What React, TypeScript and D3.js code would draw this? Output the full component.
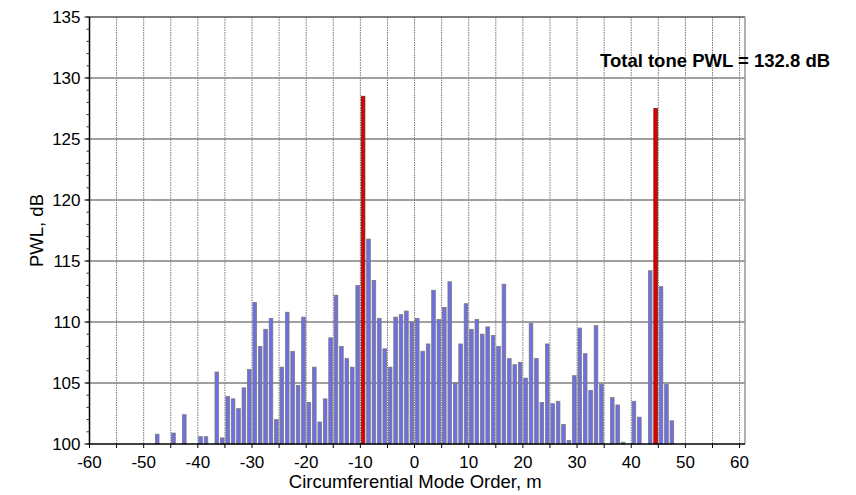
import React from "react";
import * as d3 from "d3";

const blueModes = [-48,-45,-43,-40,-39,-37,-36,-35,-34,-33,-32,-31,-30,-29,-28,-27,-26,-25,-24,-23,-22,-21,-20,-19,-18,-17,-16,-15,-14,-13,-12,-11,-9,-8,-7,-6,-5,-4,-3,-2,-1,0,1,2,3,4,5,6,7,8,9,10,11,12,13,14,15,16,17,18,19,20,21,22,23,24,25,26,27,28,29,30,31,32,33,34,36,37,38,40,41,43,45,46,47];
const bluePWL = [100.8,100.9,102.4,100.6,100.6,105.9,100.5,103.9,103.7,102.9,104.6,106.1,111.6,108.0,109.4,110.3,102.0,106.3,110.8,107.6,104.8,110.4,103.4,106.3,101.8,103.7,108.7,112.2,108.0,107.0,106.3,113.0,116.8,113.4,110.3,107.8,106.3,110.4,110.6,110.9,110.0,110.3,107.6,108.2,112.6,110.2,111.2,113.3,105.0,108.2,111.5,109.4,110.2,109.0,109.6,108.9,108.0,113.1,107.0,106.5,106.7,105.4,109.9,107.0,103.4,108.2,103.3,103.5,101.6,100.3,105.6,109.5,107.4,104.4,109.7,104.9,103.8,103.2,100.15,103.5,102.2,114.2,112.9,104.9,101.9];
const toneModes = [-10, 44];
const tonePWL = [128.5, 127.5];
const xTicks = [-60,-50,-40,-30,-20,-10,0,10,20,30,40,50,60];
const xGrid = [-55,-50,-45,-40,-35,-30,-25,-20,-15,-10,-5,0,5,10,15,20,25,30,35,40,45,50,55,60];
const yTicks = [100,105,110,115,120,125,130,135];
const annotation = "Total tone PWL = 132.8 dB";

const W = 856, H = 495;
const L = 89.5, R = 745, T = 17, B = 444;

export default function App() {
  const x = d3.scaleLinear().domain([-60, 61]).range([L, R]);
  const y = d3.scaleLinear().domain([100, 135]).range([B, T]);
  const bw = 3.6;
  const font = "'Liberation Sans', Arial, sans-serif";
  const minorY = d3.range(100, 136, 1);
  return (
    <svg width={W} height={H} style={{ position: "absolute", left: 0, top: 0 }} fontFamily={font}>
      <rect x={0} y={0} width={W} height={H} fill="#fff" />
      {xGrid.map((v) => (
        <line key={"vg" + v} x1={x(v)} x2={x(v)} y1={T} y2={B} stroke="#777" strokeWidth={1} strokeDasharray="1.5,1" />
      ))}
      {yTicks.slice(1, -1).map((v) => (
        <line key={"hg" + v} x1={L} x2={R} y1={y(v)} y2={y(v)} stroke="#808080" strokeWidth={1.5} />
      ))}
      {blueModes.map((m, i) => (
        <rect key={"b" + m} x={x(m + 0.5) - bw / 2} y={y(bluePWL[i])} width={bw} height={B - y(bluePWL[i])}
          fill="#6e6ee6" stroke="#7a7a7a" strokeWidth={0.8} />
      ))}
      {toneModes.map((m, i) => (
        <rect key={"r" + m} x={x(m + 0.5) - bw / 2} y={y(tonePWL[i])} width={bw} height={B - y(tonePWL[i])}
          fill="#dd0000" stroke="#7a2020" strokeWidth={0.8} />
      ))}
      <line x1={L} x2={R} y1={T} y2={T} stroke="#555" strokeWidth={1.5} />
      <line x1={R} x2={R} y1={T} y2={B} stroke="#999" strokeWidth={1.5} />
      <line x1={L} x2={L} y1={T} y2={B + 1} stroke="#000" strokeWidth={1.5} />
      <line x1={L} x2={R} y1={B} y2={B} stroke="#000" strokeWidth={1.5} />
      {minorY.map((v) => (
        <line key={"my" + v} x1={L - 3} x2={L} y1={y(v)} y2={y(v)} stroke="#333" strokeWidth={1} />
      ))}
      {yTicks.map((v) => (
        <g key={"yt" + v}>
          <line x1={L - 5} x2={L} y1={y(v)} y2={y(v)} stroke="#000" strokeWidth={1} />
          <text x={L - 9} y={y(v)} dy="0.36em" textAnchor="end" fontSize={17} fill="#000">{v}</text>
        </g>
      ))}
      {xGrid.map((v) => (
        <line key={"xt" + v} x1={x(v)} x2={x(v)} y1={B} y2={B + 4} stroke="#000" strokeWidth={1} />
      ))}
      <line x1={x(-60)} x2={x(-60)} y1={B} y2={B + 4} stroke="#000" strokeWidth={1} />
      {xTicks.map((v) => (
        <text key={"xl" + v} x={x(v)} y={B + 24} textAnchor="middle" fontSize={17} fill="#000">{v}</text>
      ))}
      <text x={(L + R) / 2 - 2} y={488} textAnchor="middle" fontSize={18.5} fill="#000">Circumferential Mode Order, m</text>
      <text transform={`translate(43,${(T + B) / 2}) rotate(-90)`} textAnchor="middle" fontSize={18.5} fill="#000">PWL, dB</text>
      <text x={600} y={67} fontSize={18.5} fontWeight="bold" fill="#000">{annotation}</text>
    </svg>
  );
}
